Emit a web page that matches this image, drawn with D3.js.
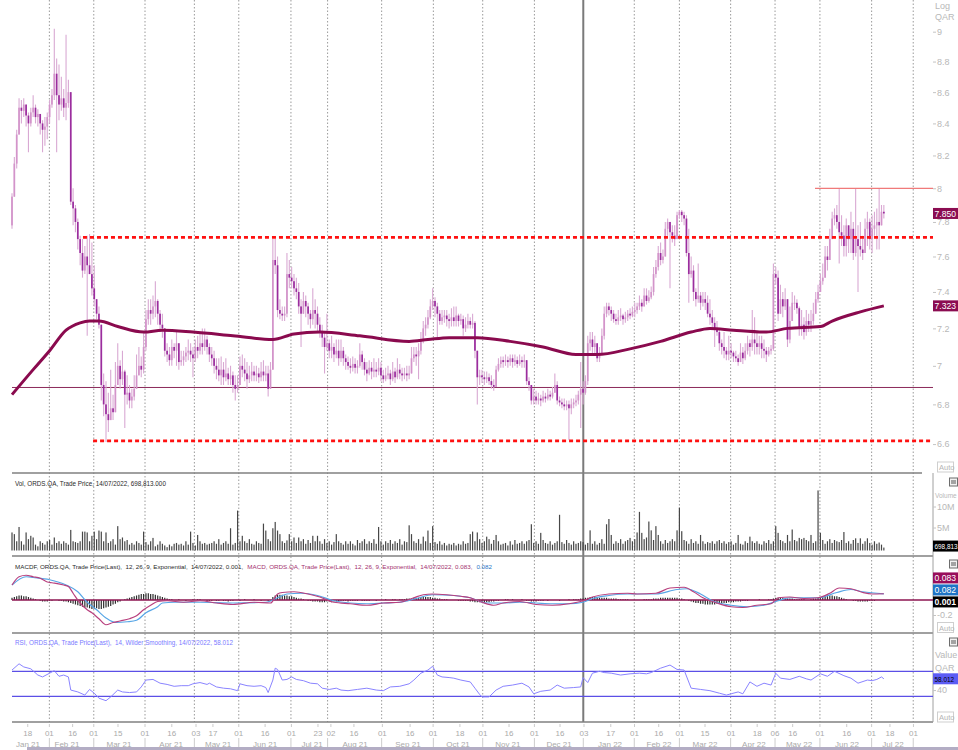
<!DOCTYPE html>
<html><head><meta charset="utf-8">
<script src="https://cdn.jsdelivr.net/npm/d3@7"></script>
<style>
html,body{margin:0;padding:0;background:#fff;overflow:hidden}
svg{display:block;font-family:"Liberation Sans",Arial,sans-serif}
</style></head><body>
<svg id="c" width="958" height="750"></svg>
<script>
// ---------- DATA ----------
const firstOpen = 7.78;
const closes = [
7.95,8.15,8.33,8.50,8.48,8.52,8.45,8.40,8.47,8.50,
8.44,8.46,8.40,8.36,8.38,8.44,8.52,8.58,8.72,8.58,
8.52,8.56,8.50,8.53,8.60,7.92,7.88,7.80,7.70,7.62,
7.52,7.60,7.55,7.50,7.42,7.36,7.28,7.22,6.90,6.80,
6.75,6.72,6.78,6.76,6.90,7.00,6.93,6.97,6.85,6.86,
6.82,6.84,6.88,6.95,7.00,6.98,7.10,7.25,7.30,7.28,
7.32,7.35,7.28,7.22,7.20,7.08,7.06,7.03,7.10,7.08,
7.12,7.02,7.03,7.05,7.07,7.08,7.06,7.04,7.10,7.08,
7.12,7.10,7.14,7.10,7.06,7.04,7.00,6.98,6.95,6.98,
6.94,6.96,6.93,6.95,6.90,6.88,6.90,7.00,6.98,6.96,
6.93,6.95,6.97,6.95,6.96,6.94,6.97,6.95,6.96,6.88,
6.98,7.58,7.55,7.30,7.28,7.27,7.28,7.50,7.48,7.46,
7.42,7.40,7.32,7.28,7.35,7.32,7.28,7.25,7.30,7.28,
7.22,7.18,7.15,7.10,7.12,7.08,7.10,7.06,7.08,7.04,
7.08,7.04,7.02,7.00,6.99,7.01,6.99,7.00,7.06,7.02,
6.98,6.96,6.99,6.97,6.98,6.97,6.99,6.95,6.93,6.95,
6.96,6.93,6.97,6.94,6.98,6.96,6.95,6.96,6.95,6.96,
7.04,7.06,7.05,7.08,7.14,7.20,7.22,7.26,7.32,7.35,
7.32,7.28,7.24,7.26,7.27,7.25,7.24,7.26,7.24,7.27,
7.24,7.25,7.20,7.22,7.24,7.22,7.23,7.08,6.94,6.95,
6.94,6.93,6.94,6.92,6.90,6.89,6.98,7.01,7.03,7.02,
7.03,7.02,7.04,7.02,7.03,7.01,7.03,7.02,7.03,6.92,
6.90,6.82,6.84,6.82,6.83,6.82,6.84,6.83,6.85,6.84,
6.86,6.90,6.82,6.81,6.80,6.79,6.80,6.78,6.80,6.81,
6.82,6.85,6.88,6.86,6.92,7.12,7.14,7.10,7.12,7.04,
7.06,7.16,7.28,7.32,7.30,7.28,7.25,7.24,7.26,7.27,
7.25,7.26,7.28,7.27,7.29,7.30,7.32,7.34,7.32,7.38,
7.35,7.37,7.40,7.50,7.54,7.62,7.58,7.60,7.76,7.80,
7.74,7.72,7.70,7.84,7.86,7.84,7.82,7.62,7.50,7.52,
7.40,7.36,7.38,7.34,7.36,7.34,7.28,7.26,7.23,7.20,
7.18,7.12,7.10,7.08,7.06,7.08,7.07,7.05,7.04,7.02,
7.07,7.04,7.08,7.12,7.10,7.14,7.12,7.10,7.12,7.09,
7.08,7.06,7.08,7.09,7.50,7.48,7.28,7.36,7.32,7.36,
7.14,7.24,7.34,7.34,7.31,7.20,7.22,7.18,7.24,7.22,
7.24,7.28,7.36,7.40,7.46,7.48,7.60,7.58,7.70,7.82,
7.84,7.80,7.74,7.72,7.66,7.78,7.70,7.76,7.62,7.70,
7.66,7.64,7.62,7.76,7.80,7.70,7.76,7.78,7.80,7.78,
7.86,7.85];
const highs = [
7.97,8.19,8.36,8.56,8.55,8.56,8.50,8.47,8.50,8.58,
8.52,8.49,8.46,8.42,8.44,8.47,8.55,8.62,9.02,8.82,
8.78,8.70,8.62,8.98,8.68,8.58,8.00,7.90,7.82,7.72,
7.70,7.66,7.72,7.73,7.68,7.55,7.36,7.32,7.05,6.96,
6.92,6.86,6.98,6.85,7.02,7.12,7.03,7.08,6.98,6.95,
6.90,6.88,6.95,7.06,7.10,7.05,7.18,7.30,7.36,7.36,
7.38,7.46,7.36,7.30,7.28,7.18,7.12,7.10,7.14,7.12,
7.18,7.12,7.08,7.08,7.10,7.14,7.12,7.10,7.14,7.16,
7.18,7.20,7.20,7.16,7.12,7.10,7.08,7.04,7.04,7.05,
7.02,7.04,6.99,7.00,6.97,6.95,6.95,7.05,7.06,7.04,
7.02,7.00,7.02,7.00,7.00,6.99,7.02,7.03,7.00,7.00,
7.02,7.70,7.70,7.60,7.36,7.32,7.32,7.62,7.58,7.54,
7.50,7.48,7.45,7.36,7.40,7.38,7.34,7.30,7.42,7.36,
7.32,7.26,7.22,7.18,7.28,7.14,7.16,7.12,7.14,7.14,
7.14,7.10,7.06,7.05,7.04,7.05,7.04,7.03,7.12,7.08,
7.04,7.02,7.03,7.02,7.04,7.02,7.04,7.02,6.98,6.99,
7.00,6.98,7.02,6.99,7.04,7.01,6.99,6.99,7.00,7.00,
7.10,7.10,7.10,7.12,7.18,7.24,7.26,7.30,7.36,7.42,
7.37,7.34,7.30,7.30,7.30,7.30,7.28,7.31,7.32,7.32,
7.28,7.28,7.27,7.26,7.28,7.26,7.28,7.24,7.08,6.98,
6.98,6.97,6.97,6.96,6.95,6.93,7.00,7.04,7.05,7.05,
7.06,7.05,7.06,7.06,7.06,7.05,7.06,7.05,7.06,7.03,
6.94,6.90,6.88,6.87,6.86,6.85,6.87,6.86,6.88,6.87,
6.89,6.96,6.92,6.84,6.83,6.83,6.82,6.82,6.83,6.83,
6.85,6.87,7.02,6.92,6.95,7.16,7.18,7.18,7.16,7.12,
7.10,7.20,7.32,7.34,7.34,7.32,7.30,7.28,7.30,7.31,
7.28,7.29,7.30,7.31,7.32,7.34,7.34,7.38,7.36,7.42,
7.42,7.41,7.43,7.54,7.58,7.66,7.68,7.64,7.80,7.82,
7.80,7.78,7.78,7.86,7.87,7.87,7.86,7.84,7.76,7.60,
7.55,7.42,7.56,7.40,7.40,7.40,7.38,7.36,7.30,7.26,
7.24,7.20,7.14,7.18,7.10,7.16,7.12,7.08,7.08,7.06,
7.12,7.10,7.12,7.16,7.14,7.30,7.26,7.18,7.16,7.16,
7.14,7.10,7.10,7.11,7.56,7.54,7.52,7.44,7.40,7.42,
7.36,7.32,7.40,7.38,7.36,7.32,7.30,7.26,7.30,7.28,
7.30,7.34,7.40,7.44,7.50,7.56,7.66,7.66,7.76,7.86,
7.88,7.90,8.00,7.84,7.78,7.82,7.78,7.86,7.80,8.00,
7.78,7.80,7.72,7.82,7.86,7.82,7.84,7.86,7.88,8.00,
7.90,7.90];
const lows = [
7.76,7.97,8.12,8.35,8.40,8.44,8.38,8.22,8.38,8.44,
8.40,8.38,8.33,8.22,8.26,8.30,8.40,8.50,8.55,8.22,
8.42,8.48,8.44,8.42,8.50,7.90,7.78,7.74,7.64,7.55,
7.48,7.50,7.16,7.50,7.38,7.32,7.25,7.20,6.82,6.74,
6.61,6.66,6.72,6.72,6.82,6.95,6.88,6.90,6.68,6.80,
6.78,6.78,6.82,6.88,6.95,6.94,6.96,7.08,7.22,7.22,
7.25,7.26,7.22,7.18,7.15,7.05,7.02,7.00,7.00,7.04,
7.00,6.98,7.00,7.00,7.02,7.03,7.02,6.94,7.02,7.04,
7.06,7.06,7.08,7.06,7.02,7.00,6.96,6.93,6.92,6.90,
6.90,6.92,6.90,6.90,6.86,6.82,6.86,6.92,6.94,6.92,
6.88,6.91,6.92,6.92,6.92,6.91,6.92,6.92,6.92,6.84,
6.90,6.98,7.50,7.26,7.25,7.24,7.24,7.26,7.42,7.42,
7.38,7.36,7.28,7.10,7.28,7.26,7.22,7.20,7.22,7.20,
7.18,7.15,7.10,6.96,7.08,7.04,7.04,7.02,7.04,7.00,
7.02,7.00,6.98,6.98,6.96,6.97,6.96,6.96,6.99,6.98,
6.95,6.92,6.95,6.93,6.94,6.94,6.95,6.92,6.91,6.92,
6.93,6.90,6.92,6.91,6.93,6.93,6.92,6.93,6.92,6.93,
6.96,7.02,7.00,6.93,7.06,7.12,7.16,7.20,7.25,7.30,
7.26,7.14,7.22,7.22,7.23,7.21,7.20,7.21,7.21,7.21,
7.21,7.22,7.16,7.18,7.20,7.20,7.20,7.04,6.80,6.90,
6.91,6.90,6.91,6.90,6.88,6.87,6.90,6.97,6.99,6.99,
7.00,6.99,7.00,6.99,7.00,6.99,7.00,6.99,6.99,6.90,
6.87,6.80,6.80,6.80,6.80,6.79,6.81,6.81,6.82,6.82,
6.83,6.86,6.80,6.79,6.78,6.77,6.77,6.62,6.75,6.78,
6.79,6.80,6.68,6.80,6.85,6.90,7.08,7.06,7.06,7.02,
7.02,7.06,7.14,7.26,7.27,7.24,7.23,7.22,7.22,7.24,
7.22,7.23,7.24,7.25,7.26,7.26,7.28,7.30,7.29,7.32,
7.33,7.34,7.36,7.38,7.48,7.52,7.55,7.56,7.60,7.72,
7.42,7.68,7.66,7.72,7.82,7.80,7.78,7.60,7.34,7.48,
7.35,7.32,7.34,7.30,7.32,7.30,7.26,7.22,7.20,7.10,
7.16,7.08,7.06,7.04,7.03,7.03,7.04,7.02,7.02,7.00,
7.02,7.01,7.03,7.06,7.05,7.08,7.06,7.06,7.06,7.04,
7.04,7.02,7.05,7.06,7.08,7.44,7.24,7.28,7.26,7.30,
7.10,7.12,7.28,7.30,7.28,7.16,7.16,7.14,7.16,7.18,
7.18,7.22,7.28,7.34,7.40,7.44,7.48,7.52,7.58,7.70,
7.78,7.76,7.56,7.66,7.60,7.60,7.62,7.62,7.58,7.60,
7.40,7.60,7.58,7.62,7.66,7.64,7.62,7.72,7.64,7.64,
7.80,7.82];
// volume, millions
const volumes = [
4.3,3.9,2.2,5.6,2.2,1.4,4.3,2.7,3.5,3.1,
1.4,1.0,2.2,1.8,1.4,2.2,2.5,1.4,3.1,1.8,
2.2,1.6,2.2,1.8,1.4,4.9,2.2,2.0,1.8,2.2,
4.5,4.5,4.3,2.2,3.5,4.5,2.7,4.75,4.5,2.2,
4.3,1.8,2.2,2.7,1.4,5.8,2.7,3.1,2.2,2.5,
1.4,1.8,1.4,2.2,1.8,1.4,4.5,2.0,1.4,2.2,
3.0,1.0,1.4,2.2,1.6,1.2,0.8,1.4,1.0,1.6,
1.8,1.4,1.6,1.2,2.2,1.4,4.5,1.8,1.2,3.7,
2.2,1.6,1.8,1.4,1.6,1.8,2.2,1.6,2.7,1.4,
1.8,2.2,1.6,5.3,1.4,1.8,9.5,2.2,3.5,2.2,
1.8,2.7,1.6,1.4,2.2,1.8,1.6,6.4,4.75,2.7,
2.2,5.3,6.8,4.75,3.9,2.2,1.8,2.4,3.9,2.2,
3.1,1.8,3.1,2.2,2.7,1.6,2.5,1.8,3.5,2.2,
3.5,2.2,1.6,2.7,1.8,2.2,1.4,2.0,3.9,2.2,
1.8,1.4,2.2,1.6,2.2,1.6,1.2,2.5,1.8,2.2,
2.7,1.6,2.2,1.8,2.7,1.6,5.6,2.2,1.4,2.2,
1.8,2.5,1.6,2.2,1.8,2.7,1.4,2.2,2.0,6.0,
3.9,2.2,1.8,2.7,1.6,3.3,2.2,4.75,1.8,5.8,
2.0,1.6,2.2,1.4,1.8,1.2,1.6,1.4,1.8,1.2,
1.6,1.4,2.2,1.6,1.8,3.9,4.5,2.2,4.3,2.7,
1.8,2.2,3.3,2.7,1.6,2.5,3.7,2.2,1.4,1.6,
1.8,1.2,2.2,1.4,2.5,1.6,1.8,2.2,1.6,2.2,
2.5,6.25,1.8,2.2,1.6,4.2,2.5,1.8,1.6,2.2,
1.4,1.8,2.2,8.5,2.0,1.6,2.5,1.8,1.4,2.2,
1.6,1.8,2.2,2.0,1.4,1.8,4.8,1.6,2.2,1.4,
1.8,2.7,1.6,6.25,7.5,3.7,1.6,2.2,1.8,2.7,
1.6,2.2,2.5,3.0,2.2,2.7,4.3,9.2,4.2,2.7,
3.1,6.9,4.8,2.5,5.8,3.7,2.2,1.6,2.5,1.8,
2.2,2.7,2.2,4.8,10.2,4.6,2.5,2.2,1.6,2.7,
1.8,2.2,1.6,3.7,2.2,1.6,2.0,1.8,2.2,1.6,
2.2,2.5,1.8,2.2,1.6,2.0,2.2,1.4,1.8,3.7,
1.6,1.4,2.2,1.8,3.3,2.2,1.8,2.2,1.6,1.4,
2.2,1.8,2.5,1.6,2.2,5.8,4.2,2.5,2.2,1.8,
3.7,2.2,5.0,2.5,2.2,3.0,2.7,3.0,2.5,2.2,
3.7,1.8,2.2,14.3,4.2,2.5,1.6,2.2,2.7,1.8,
2.5,2.2,2.0,2.5,4.4,1.8,2.2,1.6,2.5,2.9,
1.8,2.9,1.6,2.2,2.9,1.8,1.4,2.2,1.6,1.9,
1.4,0.7];
const macdHist = [
0.03,0.04,0.05,0.06,0.06,0.05,0.05,0.04,
0.03,0.02,0.01,0.00,-0.01,-0.02,-0.02,-0.02,-0.01,
-0.01,0.00,0.00,-0.01,-0.01,-0.02,-0.02,-0.03,-0.04,
-0.05,-0.06,-0.07,-0.08,-0.09,-0.10,-0.10,-0.11,-0.12,-0.12,-0.11,-0.12,-0.12,-0.11,-0.10,-0.09,-0.08,-0.06,-0.05,-0.03,
-0.02,0.00,0.01,0.02,0.03,0.04,0.05,0.06,0.07,0.08,0.08,
0.09,0.09,0.08,0.08,0.07,0.06,0.05,0.04,0.03,0.02,
0.01,0.01,0.00,0.00,0.01,0.00,0.00,-0.01,0.00,0.00,0.01,0.00,0.01,0.01,0.00,0.00,-0.01,-0.01,-0.01,0.00,-0.01,-0.01,0.00,-0.01,-0.01,-0.02,-0.01,-0.01,0.00,0.00,-0.01,0.00,0.01,0.00,0.00,0.00,0.01,0.00,0.00,-0.01,0.00,0.00,-0.01,-0.01,
0.04,0.06,0.07,0.07,0.07,0.06,0.06,0.05,0.05,0.04,0.03,0.02,0.02,0.01,0.00,
-0.01,-0.01,-0.02,-0.02,-0.02,-0.03,-0.03,-0.03,-0.02,-0.02,-0.03,-0.02,-0.02,-0.02,-0.01,-0.01,-0.01,-0.02,-0.01,-0.01,-0.01,-0.01,0.00,-0.01,-0.01,
-0.01,-0.01,0.00,0.00,-0.01,0.00,0.00,0.00,0.01,0.00,0.00,0.01,0.01,0.00,0.01,0.01,0.01,0.02,0.02,0.02,
0.03,0.03,0.03,0.04,0.04,0.04,0.04,0.04,0.03,0.03,0.02,0.02,0.01,0.01,0.01,0.00,0.00,0.00,0.00,-0.01,
-0.01,-0.01,-0.01,-0.01,-0.02,-0.02,-0.03,-0.03,-0.03,
-0.03,-0.03,-0.03,-0.03,-0.02,-0.02,-0.01,-0.01,0.00,0.00,0.01,0.01,0.00,0.01,0.00,0.00,0.00,0.01,0.00,-0.01,-0.01,-0.02,-0.02,-0.02,-0.01,-0.01,-0.01,0.00,-0.01,0.00,0.00,0.00,0.00,-0.01,0.00,0.00,0.00,0.01,0.00,0.01,0.01,
0.01,0.02,0.02,0.03,0.03,0.04,0.04,0.04,0.03,0.03,0.03,0.03,0.03,0.02,0.02,0.02,0.02,0.01,0.01,0.01,0.01,0.01,
0.00,0.00,0.00,0.00,0.00,0.00,0.01,0.01,0.01,0.01,0.02,0.02,0.02,
0.03,0.03,0.03,0.03,0.03,0.03,0.03,0.03,0.02,0.02,0.01,0.00,-0.01,-0.02,-0.03,
-0.04,-0.04,-0.05,-0.05,-0.06,-0.06,-0.06,-0.06,-0.06,-0.05,-0.05,-0.05,-0.04,-0.04,-0.03,-0.03,-0.03,-0.02,-0.02,-0.02,-0.01,-0.01,
-0.01,0.00,0.00,0.00,0.00,0.01,0.00,0.00,0.00,0.01,0.01,0.02,0.03,
0.03,0.03,0.03,0.02,0.02,0.02,0.02,0.01,0.01,0.01,0.01,0.01,0.00,0.00,0.01,
0.02,0.02,0.03,0.03,0.04,0.05,0.05,0.06,0.06,0.05,0.05,0.04,0.03,0.02,0.01,0.00,0.00,-0.01,-0.01,-0.02,
-0.02,-0.02,-0.02,-0.02,-0.01,-0.01,-0.01,0.00,0.00,0.00,0.001];
// [day index, value]
const maPts = [[0,6.85],[9,6.98],[16,7.08],[23,7.19],[29,7.23],[33,7.24],[37,7.24],[45,7.21],[56,7.18],[64,7.19],[77,7.18],[94,7.16],[111,7.14],[120,7.17],[131,7.18],[148,7.16],[169,7.13],[177,7.14],[186,7.15],[198,7.15],[212,7.13],[226,7.10],[240,7.06],[249,7.06],[263,7.09],[276,7.13],[289,7.18],[297,7.20],[307,7.19],[321,7.18],[330,7.20],[344,7.21],[349,7.24],[361,7.29],[371,7.323]];
const macdPts = [[0,0.20],[3,0.31],[6,0.33],[9,0.31],[12,0.29],[15,0.24],[17,0.23],[22,0.20],[24,0.18],[26,0.09],[29,-0.04],[32,-0.13],[34,-0.17],[37,-0.25],[40,-0.33],[43,-0.30],[46,-0.28],[50,-0.25],[53,-0.21],[56,-0.13],[59,-0.07],[62,-0.02],[66,-0.01],[73,-0.03],[80,-0.01],[87,-0.04],[94,-0.06],[103,-0.03],[110,-0.04],[113,0.08],[115,0.10],[120,0.11],[126,0.08],[131,0.04],[137,-0.03],[144,-0.05],[151,-0.07],[158,-0.04],[165,-0.03],[171,0.03],[175,0.07],[179,0.08],[185,0.07],[191,0.05],[195,0.03],[200,-0.03],[205,-0.07],[209,-0.04],[216,-0.02],[223,-0.06],[230,-0.07],[237,-0.05],[243,-0.01],[247,0.04],[254,0.08],[262,0.09],[266,0.08],[274,0.09],[280,0.16],[286,0.17],[290,0.11],[294,0.03],[300,-0.04],[306,-0.09],[311,-0.10],[317,-0.07],[323,-0.05],[326,0.03],[331,0.04],[337,0.02],[343,0.03],[348,0.09],[352,0.16],[357,0.15],[362,0.10],[366,0.08],[371,0.083]];
const signalPts = [[0,0.20],[6,0.31],[9,0.30],[16,0.27],[23,0.20],[28,0.11],[32,-0.03],[36,-0.13],[40,-0.24],[44,-0.30],[49,-0.29],[53,-0.27],[57,-0.17],[62,-0.09],[64,-0.04],[69,-0.03],[80,-0.03],[94,-0.04],[108,-0.03],[113,0.03],[117,0.08],[123,0.09],[130,0.06],[137,-0.01],[144,-0.04],[151,-0.05],[158,-0.04],[165,-0.03],[172,0.02],[179,0.07],[188,0.06],[195,0.03],[202,-0.04],[209,-0.04],[216,-0.03],[223,-0.04],[230,-0.05],[237,-0.05],[243,-0.03],[247,0.02],[254,0.06],[262,0.08],[274,0.08],[283,0.14],[287,0.15],[293,0.08],[298,-0.01],[306,-0.07],[313,-0.09],[320,-0.07],[326,-0.01],[331,0.03],[343,0.03],[351,0.10],[357,0.14],[362,0.11],[371,0.082]];
const rsiPts = [[0,72],[3,82],[5,77],[8,74],[11,64],[13,61],[16,67],[18,71],[20,62],[22,64],[24,61],[25,40],[28,37],[31,32],[33,41],[35,35],[37,27],[40,23],[42,29],[45,40],[47,37],[50,36],[53,37],[55,45],[57,56],[60,57],[63,51],[66,49],[69,46],[72,47],[75,47],[77,50],[80,52],[83,49],[84,51],[87,45],[90,43],[93,42],[96,39],[97,50],[100,47],[103,46],[106,47],[108,44],[109,36],[111,56],[112,75],[113,73],[115,56],[117,57],[119,61],[121,57],[124,55],[127,51],[130,50],[132,43],[135,41],[138,43],[140,40],[143,39],[147,41],[151,43],[155,40],[158,39],[161,45],[165,46],[169,50],[171,56],[174,67],[177,72],[179,78],[181,64],[183,61],[186,60],[188,59],[191,56],[195,53],[197,43],[199,33],[200,29],[203,29],[206,40],[209,46],[213,48],[217,51],[220,45],[222,34],[225,38],[229,40],[232,48],[235,43],[239,44],[242,45],[243,60],[245,52],[247,67],[250,70],[252,68],[255,67],[259,64],[263,66],[267,67],[270,66],[272,68],[276,75],[280,80],[283,73],[286,72],[289,43],[293,41],[297,39],[301,35],[304,32],[306,34],[309,37],[311,34],[314,53],[317,46],[320,51],[323,48],[325,67],[327,59],[331,57],[335,62],[338,58],[340,56],[344,66],[347,62],[350,70],[354,63],[357,59],[360,51],[364,56],[366,55],[368,57],[370,61],[371,58.012]];
// horizontal levels: [from day index, price]
const dashedLevels = [[30.2,7.71],[34.5,6.616]];
const baseLevel = [0,6.887];
const topLevel = [341.7,8.0];
// axis
const priceTicks = [6.6,6.8,7,7.2,7.4,7.6,7.8,8,8.2,8.4,8.6,8.8,9];
const volTicks = [5,10];
const macdTicks = [-0.2];
const rsiBands = [70,30];
const rsiTicks = [40];
const monthStarts = [15.9,34.8,56.6,77.6,96.5,118.7,134.3,157.3,179.3,200.3,222.3,243.1,264.8,284,305.8,324.7,343.8,365.8,383.5];
const yearStart = 243.1;
const dayTicks = [[6.7,"18"],[15.9,"01"],[25.8,"16"],[34.8,"01"],[45.1,"15"],[56.6,"01"],[68,"16"],[78.3,"03"],[85.5,"17"],[96.5,"01"],[107.7,"16"],[118.9,"01"],[130.2,"23"],[135.7,"02"],[145.5,"16"],[157.6,"01"],[169.4,"16"],[179.2,"01"],[190.6,"18"],[200.4,"01"],[211.5,"16"],[222.3,"01"],[233.2,"16"],[243.4,"03"],[254.8,"17"],[264.9,"01"],[275.2,"16"],[284.2,"01"],[294.9,"15"],[306,"01"],[317.1,"18"],[324.7,"06"],[332.2,"16"],[343.8,"01"],[355.2,"16"],[365.8,"01"],[373.6,"18"],[383.6,"01"]];
const monthLabels = [[6.8,"Jan 21"],[23.4,"Feb 21"],[45.5,"Mar 21"],[67.7,"Apr 21"],[87.7,"May 21"],[107.7,"Jun 21"],[127.7,"Jul 21"],[146,"Aug 21"],[168.5,"Sep 21"],[189.8,"Oct 21"],[211,"Nov 21"],[232.8,"Dec 21"],[254.5,"Jan 22"],[275.3,"Feb 22"],[294.9,"Mar 22"],[315.7,"Apr 22"],[334.9,"May 22"],[355.3,"Jun 22"],[374.9,"Jul 22"]];
const lastValues = {price:7.850, ma:7.323, vol:"698,813", macd:"0.083", signal:"0.082", hist:"0.001", rsi:"58.012"};
const headers = {
  vol:"Vol, ORDS.QA, Trade Price, 14/07/2022, 698,813.000",
  macdf:"MACDF, ORDS.QA, Trade Price(Last),  12, 26, 9, Exponential,  14/07/2022, 0.001,",
  macd:"MACD, ORDS.QA, Trade Price(Last),  12, 26, 9, Exponential,  14/07/2022, 0.083,",
  sig:"0.082",
  rsi:"RSI, ORDS.QA, Trade Price(Last),  14, Wilder Smoothing, 14/07/2022, 58.012"
};

// ---------- LAYOUT ----------
const svg = d3.select("#c");
const L = 12, R = 933;
const x = d3.scaleLinear().domain([0,392]).range([12,933.2]);
const yP = d3.scaleLog().domain([6.458,9.217]).range([473,0]);
const yV = d3.scaleLinear().domain([0,10]).range([550.5,508.5]);
const yM = d3.scaleLinear().domain([-0.2,0.2]).range([615,585]);
const yR = d3.scaleLinear().domain([30,70]).range([696.3,671.3]);
const AXC = "#b8b8b8";

// gridlines
const grid = svg.append("g");
grid.selectAll("line.g").data(monthStarts.filter(d=>d!==yearStart)).join("line")
  .attr("x1",d=>x(d)).attr("x2",d=>x(d)).attr("y1",0).attr("y2",722)
  .attr("stroke","#9a9a9a").attr("stroke-width",1).attr("stroke-dasharray","1.5,2");
grid.append("line").attr("x1",x(yearStart)).attr("x2",x(yearStart)).attr("y1",0).attr("y2",722)
  .attr("stroke","#7a7a7a").attr("stroke-width",2);

// panel separators
const sep = svg.append("g").attr("stroke","#808080").attr("stroke-width",1.3);
sep.append("line").attr("x1",L).attr("x2",922).attr("y1",473).attr("y2",473);
[556,633,722].forEach(y=>sep.append("line").attr("x1",L).attr("x2",R).attr("y1",y).attr("y2",y));
svg.append("line").attr("x1",R).attr("x2",R).attr("y1",473).attr("y2",722).attr("stroke","#a0a0a0");

// ---------- PRICE ----------
const pg = svg.append("g");
pg.append("line").attr("x1",x(baseLevel[0])).attr("x2",R).attr("y1",yP(baseLevel[1])).attr("y2",yP(baseLevel[1]))
  .attr("stroke","#8b2a5a").attr("stroke-width",1);
const candles = closes.map((c,i)=>{
  const o = i===0?firstOpen:closes[i-1];
  return {i,o,c,h:Math.max(highs[i],o,c),l:Math.min(lows[i],o,c)};
});
pg.selectAll("line.w").data(candles).join("line")
  .attr("x1",d=>x(d.i)).attr("x2",d=>x(d.i)).attr("y1",d=>yP(d.h)).attr("y2",d=>yP(d.l))
  .attr("stroke","#d9a9d3").attr("stroke-width",1.1);
pg.selectAll("rect.b").data(candles).join("rect")
  .attr("x",d=>x(d.i)-0.85).attr("width",1.7)
  .attr("y",d=>yP(Math.max(d.o,d.c)))
  .attr("height",d=>Math.max(1,Math.abs(yP(d.o)-yP(d.c))))
  .attr("fill",d=>d.c>=d.o?"#d394ca":"#9b2d9e");
pg.append("path").datum(maPts)
  .attr("d",d3.line().x(d=>x(d[0])).y(d=>yP(d[1])).curve(d3.curveMonotoneX))
  .attr("fill","none").attr("stroke","#8a0a4e").attr("stroke-width",3);
dashedLevels.forEach(lv=>{
  pg.append("line").attr("x1",x(lv[0])).attr("x2",R).attr("y1",yP(lv[1])).attr("y2",yP(lv[1]))
    .attr("stroke","#ff1010").attr("stroke-width",2.6).attr("stroke-dasharray","4,3");
});
pg.append("line").attr("x1",x(topLevel[0])).attr("x2",R).attr("y1",yP(topLevel[1])).attr("y2",yP(topLevel[1]))
  .attr("stroke","#f07a7a").attr("stroke-width",1.2);

// ---------- VOLUME ----------
svg.append("g").selectAll("rect").data(volumes).join("rect")
  .attr("x",(d,i)=>x(i)-0.6).attr("width",1.2)
  .attr("y",d=>yV(d)).attr("height",d=>550.5-yV(d))
  .attr("fill","#474747");

// ---------- MACD ----------
const mg = svg.append("g");
mg.selectAll("rect").data(macdHist).join("rect")
  .attr("x",(d,i)=>x(i)-0.6).attr("width",1.2)
  .attr("y",d=>Math.min(yM(d),yM(0))).attr("height",d=>Math.abs(yM(d)-yM(0)))
  .attr("fill","#2e2e2e");
mg.append("line").attr("x1",L).attr("x2",R).attr("y1",yM(0)).attr("y2",yM(0))
  .attr("stroke","#8c1450").attr("stroke-width",1.5);
const lm = d3.line().x(d=>x(d[0])).y(d=>yM(d[1])).curve(d3.curveMonotoneX);
mg.append("path").datum(signalPts).attr("d",lm).attr("fill","none").attr("stroke","#58a6e6").attr("stroke-width",1.2);
mg.append("path").datum(macdPts).attr("d",lm).attr("fill","none").attr("stroke","#b8407e").attr("stroke-width",1.2);

// ---------- RSI ----------
const rg = svg.append("g");
rsiBands.forEach(v=>rg.append("line").attr("x1",L).attr("x2",R).attr("y1",yR(v)).attr("y2",yR(v))
  .attr("stroke","#5b4fe6").attr("stroke-width",1.3));
rg.append("path").datum(rsiPts)
  .attr("d",d3.line().x(d=>x(d[0])).y(d=>yR(d[1])))
  .attr("fill","none").attr("stroke","#8a84ff").attr("stroke-width",1);

// ---------- X AXIS ----------
const xa = svg.append("g").attr("font-size","8px").attr("fill","#aaaaaa").attr("text-anchor","middle");
xa.selectAll("line.t").data(dayTicks).join("line")
  .attr("x1",d=>x(d[0])).attr("x2",d=>x(d[0])).attr("y1",724).attr("y2",727).attr("stroke","#cccccc");
xa.selectAll("text.d").data(dayTicks).join("text")
  .attr("x",d=>x(d[0])).attr("y",736).text(d=>d[1]);
xa.selectAll("text.m").data(monthLabels).join("text")
  .attr("x",d=>x(d[0])).attr("y",747).text(d=>d[1]);
xa.selectAll("line.s").data(monthStarts).join("line")
  .attr("x1",d=>x(d)).attr("x2",d=>x(d)).attr("y1",738).attr("y2",748).attr("stroke","#cccccc");
svg.append("rect").attr("x",27).attr("y",747).attr("width",931).attr("height",3).attr("fill","#b3adc4");

// ---------- RIGHT AXES ----------
function styleAxis(g){
  g.select(".domain").remove();
  g.selectAll("line").attr("stroke","#c4c4c4");
  g.selectAll("text").attr("fill",AXC).attr("font-size","9px").attr("font-family","Liberation Sans, Arial, sans-serif");
}
svg.append("g").attr("transform",`translate(${R},0)`)
  .call(d3.axisRight(yP).tickValues(priceTicks).tickSize(3).tickPadding(1).tickFormat(d=>String(d))).call(styleAxis);
svg.append("g").attr("transform",`translate(${R},-2)`)
  .call(d3.axisRight(yV).tickValues(volTicks).tickSize(3).tickPadding(1).tickFormat(d=>d+"M")).call(styleAxis);
svg.append("g").attr("transform",`translate(${R},0)`)
  .call(d3.axisRight(yM).tickValues(macdTicks).tickSize(3).tickPadding(1).tickFormat(d=>d.toFixed(1))).call(styleAxis);
svg.append("g").attr("transform",`translate(${R},0)`)
  .call(d3.axisRight(yR).tickValues(rsiTicks).tickSize(3).tickPadding(1).tickFormat(d=>String(d))).call(styleAxis);

const lab = svg.append("g").attr("fill",AXC);
[["Log",9,9],["QAR",20,9],["Volume",498,6.5],["Value",658,9],["QAR",671,9]].forEach(t=>{
  lab.append("text").attr("x",935).attr("y",t[1]).attr("font-size",t[2]+"px").text(t[0]);
});

function autoBox(y){
  const g = svg.append("g");
  g.append("rect").attr("x",937.5).attr("y",y).attr("width",16).attr("height",10)
    .attr("fill","#fff").attr("stroke","#cfcfcf");
  g.append("text").attr("x",939).attr("y",y+8).attr("font-size","7.5px").attr("fill","#b5b5b5").text("Auto");
}
autoBox(462); autoBox(622.5); autoBox(712);

function icon(y){
  const g = svg.append("g");
  g.append("rect").attr("x",949.5).attr("y",y).attr("width",8).attr("height",8).attr("fill","#f2f2f2").attr("stroke","#6d6d6d");
  g.append("line").attr("x1",951).attr("x2",956).attr("y1",y+3).attr("y2",y+3).attr("stroke","#555");
  g.append("line").attr("x1",951).attr("x2",956).attr("y1",y+5).attr("y2",y+5).attr("stroke","#555");
}
icon(478); icon(560); icon(638);

function valBox(yc, txt, fill, color, bold){
  const g = svg.append("g");
  g.append("rect").attr("x",R).attr("y",yc-5.5).attr("width",26).attr("height",11).attr("fill",fill);
  const fs = txt.length>5 ? 6.4 : 8.6;
  g.append("text").attr("x",R+1.5).attr("y",yc+3.2).attr("font-size",fs+"px").attr("fill",color)
    .attr("font-weight",bold?"bold":"normal").text(txt);
}
valBox(yP(lastValues.price), lastValues.price.toFixed(3), "#8b0c51", "#ffffff");
valBox(yP(lastValues.ma), lastValues.ma.toFixed(3), "#8b0c51", "#ffffff");
valBox(yV(0.7)-1.5, lastValues.vol, "#000000", "#ffffff");
const hy = yM(0.001)+2;
valBox(hy, lastValues.hist, "#000000", "#ffffff", true);
valBox(hy-12, lastValues.signal, "#1e74c6", "#ffffff");
valBox(hy-24, lastValues.macd, "#980d5a", "#ffffff");
valBox(yR(58.012), lastValues.rsi, "#5c5cf4", "#000000");

// ---------- HEADERS (font size fitted to the reference widths) ----------
function headerLine(parts, x0, y, totalWidth, gap){
  const els = parts.map(p=>svg.append("text").attr("y",y).attr("font-size","9px")
    .attr("fill",p[1]).style("white-space","pre").text(p[0]));
  const natural = els.reduce((s,e)=>s+e.node().getComputedTextLength(),0);
  const fs = 9*(totalWidth-gap*(parts.length-1))/natural;
  let cx = x0;
  els.forEach(e=>{
    e.attr("font-size",fs.toFixed(2)+"px").attr("x",cx);
    cx += e.node().getComputedTextLength() + gap;
  });
}
headerLine([[headers.vol,"#2a2a2a"]], 15, 486, 151, 0);
headerLine([[headers.macdf,"#2a2a2a"],[headers.macd,"#a3306e"],[headers.sig,"#1e74c6"]], 15, 569, 477, 4);
headerLine([[headers.rsi,"#7a7aff"]], 15, 645, 218, 0);
</script>
</body></html>
